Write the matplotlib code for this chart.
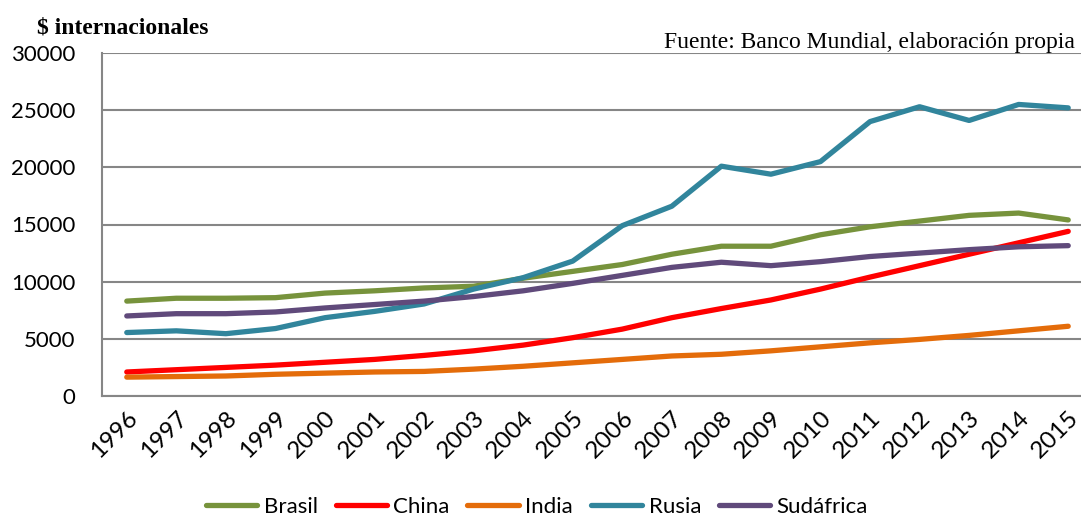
import numpy as np
import matplotlib.pyplot as plt

years = [str(y) for y in range(1996, 2016)]

brasil = [8300, 8550, 8550, 8600, 9000, 9200, 9450, 9600, 10300, 10900,
          11500, 12400, 13100, 13100, 14100, 14800, 15300, 15800, 16000, 15400]
china = [2100, 2300, 2500, 2700, 2950, 3200, 3550, 3950, 4450, 5100,
         5850, 6850, 7650, 8400, 9350, 10400, 11400, 12400, 13400, 14400]
india = [1650, 1700, 1750, 1900, 2000, 2100, 2150, 2350, 2600, 2900,
         3200, 3500, 3650, 3950, 4300, 4650, 4950, 5300, 5700, 6100]
rusia = [5550, 5700, 5450, 5900, 6850, 7400, 8050, 9350, 10350, 11800,
         14900, 16600, 20100, 19400, 20500, 24000, 25300, 24100, 25500, 25200]
sudafrica = [7000, 7200, 7200, 7350, 7700, 8000, 8300, 8700, 9200, 9850,
             10550, 11250, 11700, 11400, 11750, 12200, 12500, 12800, 13050, 13150]

series = [
    ('Brasil', brasil, '#77933C'),
    ('China', china, '#FF0000'),
    ('India', india, '#E46C0A'),
    ('Rusia', rusia, '#31859C'),
    ('Sudáfrica', sudafrica, '#604A7B'),
]

fig = plt.figure(figsize=(10.81, 5.18), dpi=100)
ax = fig.add_axes([102 / 1081, 1 - 396 / 518, (1093 - 102) / 1081, (396 - 53) / 518])

x = np.arange(len(years))
for name, vals, col in series:
    ax.plot(x, vals, color=col, lw=3.8, label=name, solid_capstyle='round')

ax.set_xlim(-0.5, len(years) - 0.5)
ax.set_ylim(0, 30000)
ax.set_yticks(range(0, 30001, 5000))
ax.set_xticks(x)
ax.set_xticklabels(years, rotation=45, ha='right', rotation_mode='anchor',
                   fontsize=17.5, family='Lato')
for lab in ax.get_yticklabels():
    lab.set_fontsize(16)
    lab.set_family('Lato')

ax.grid(axis='y', color='#868686', lw=1.5)
ax.set_axisbelow(True)
for s in ['top', 'right']:
    ax.spines[s].set_visible(False)
for s in ['left', 'bottom']:
    ax.spines[s].set_color('#868686')
    ax.spines[s].set_linewidth(1.5)
ax.tick_params(axis='both', length=0)
ax.tick_params(axis='y', pad=19)
ax.tick_params(axis='x', pad=8)

fig.text(37 / 1081, 1 - 28 / 518, r'\$ internacionales', family='Liberation Serif',
         fontweight='bold', fontsize=17, va='center', ha='left')
fig.text(1075 / 1081, 1 - 42 / 518, 'Fuente: Banco Mundial, elaboración propia',
         family='Liberation Serif', fontsize=17, va='center', ha='right')

fig.legend(loc='center', bbox_to_anchor=(537 / 1081, 1 - 507 / 518), ncol=5,
           frameon=False, prop={'family': 'Lato', 'size': 16},
           handlelength=2.3, columnspacing=0.8, handletextpad=0.3)

fig.savefig('out.png', dpi=100)
